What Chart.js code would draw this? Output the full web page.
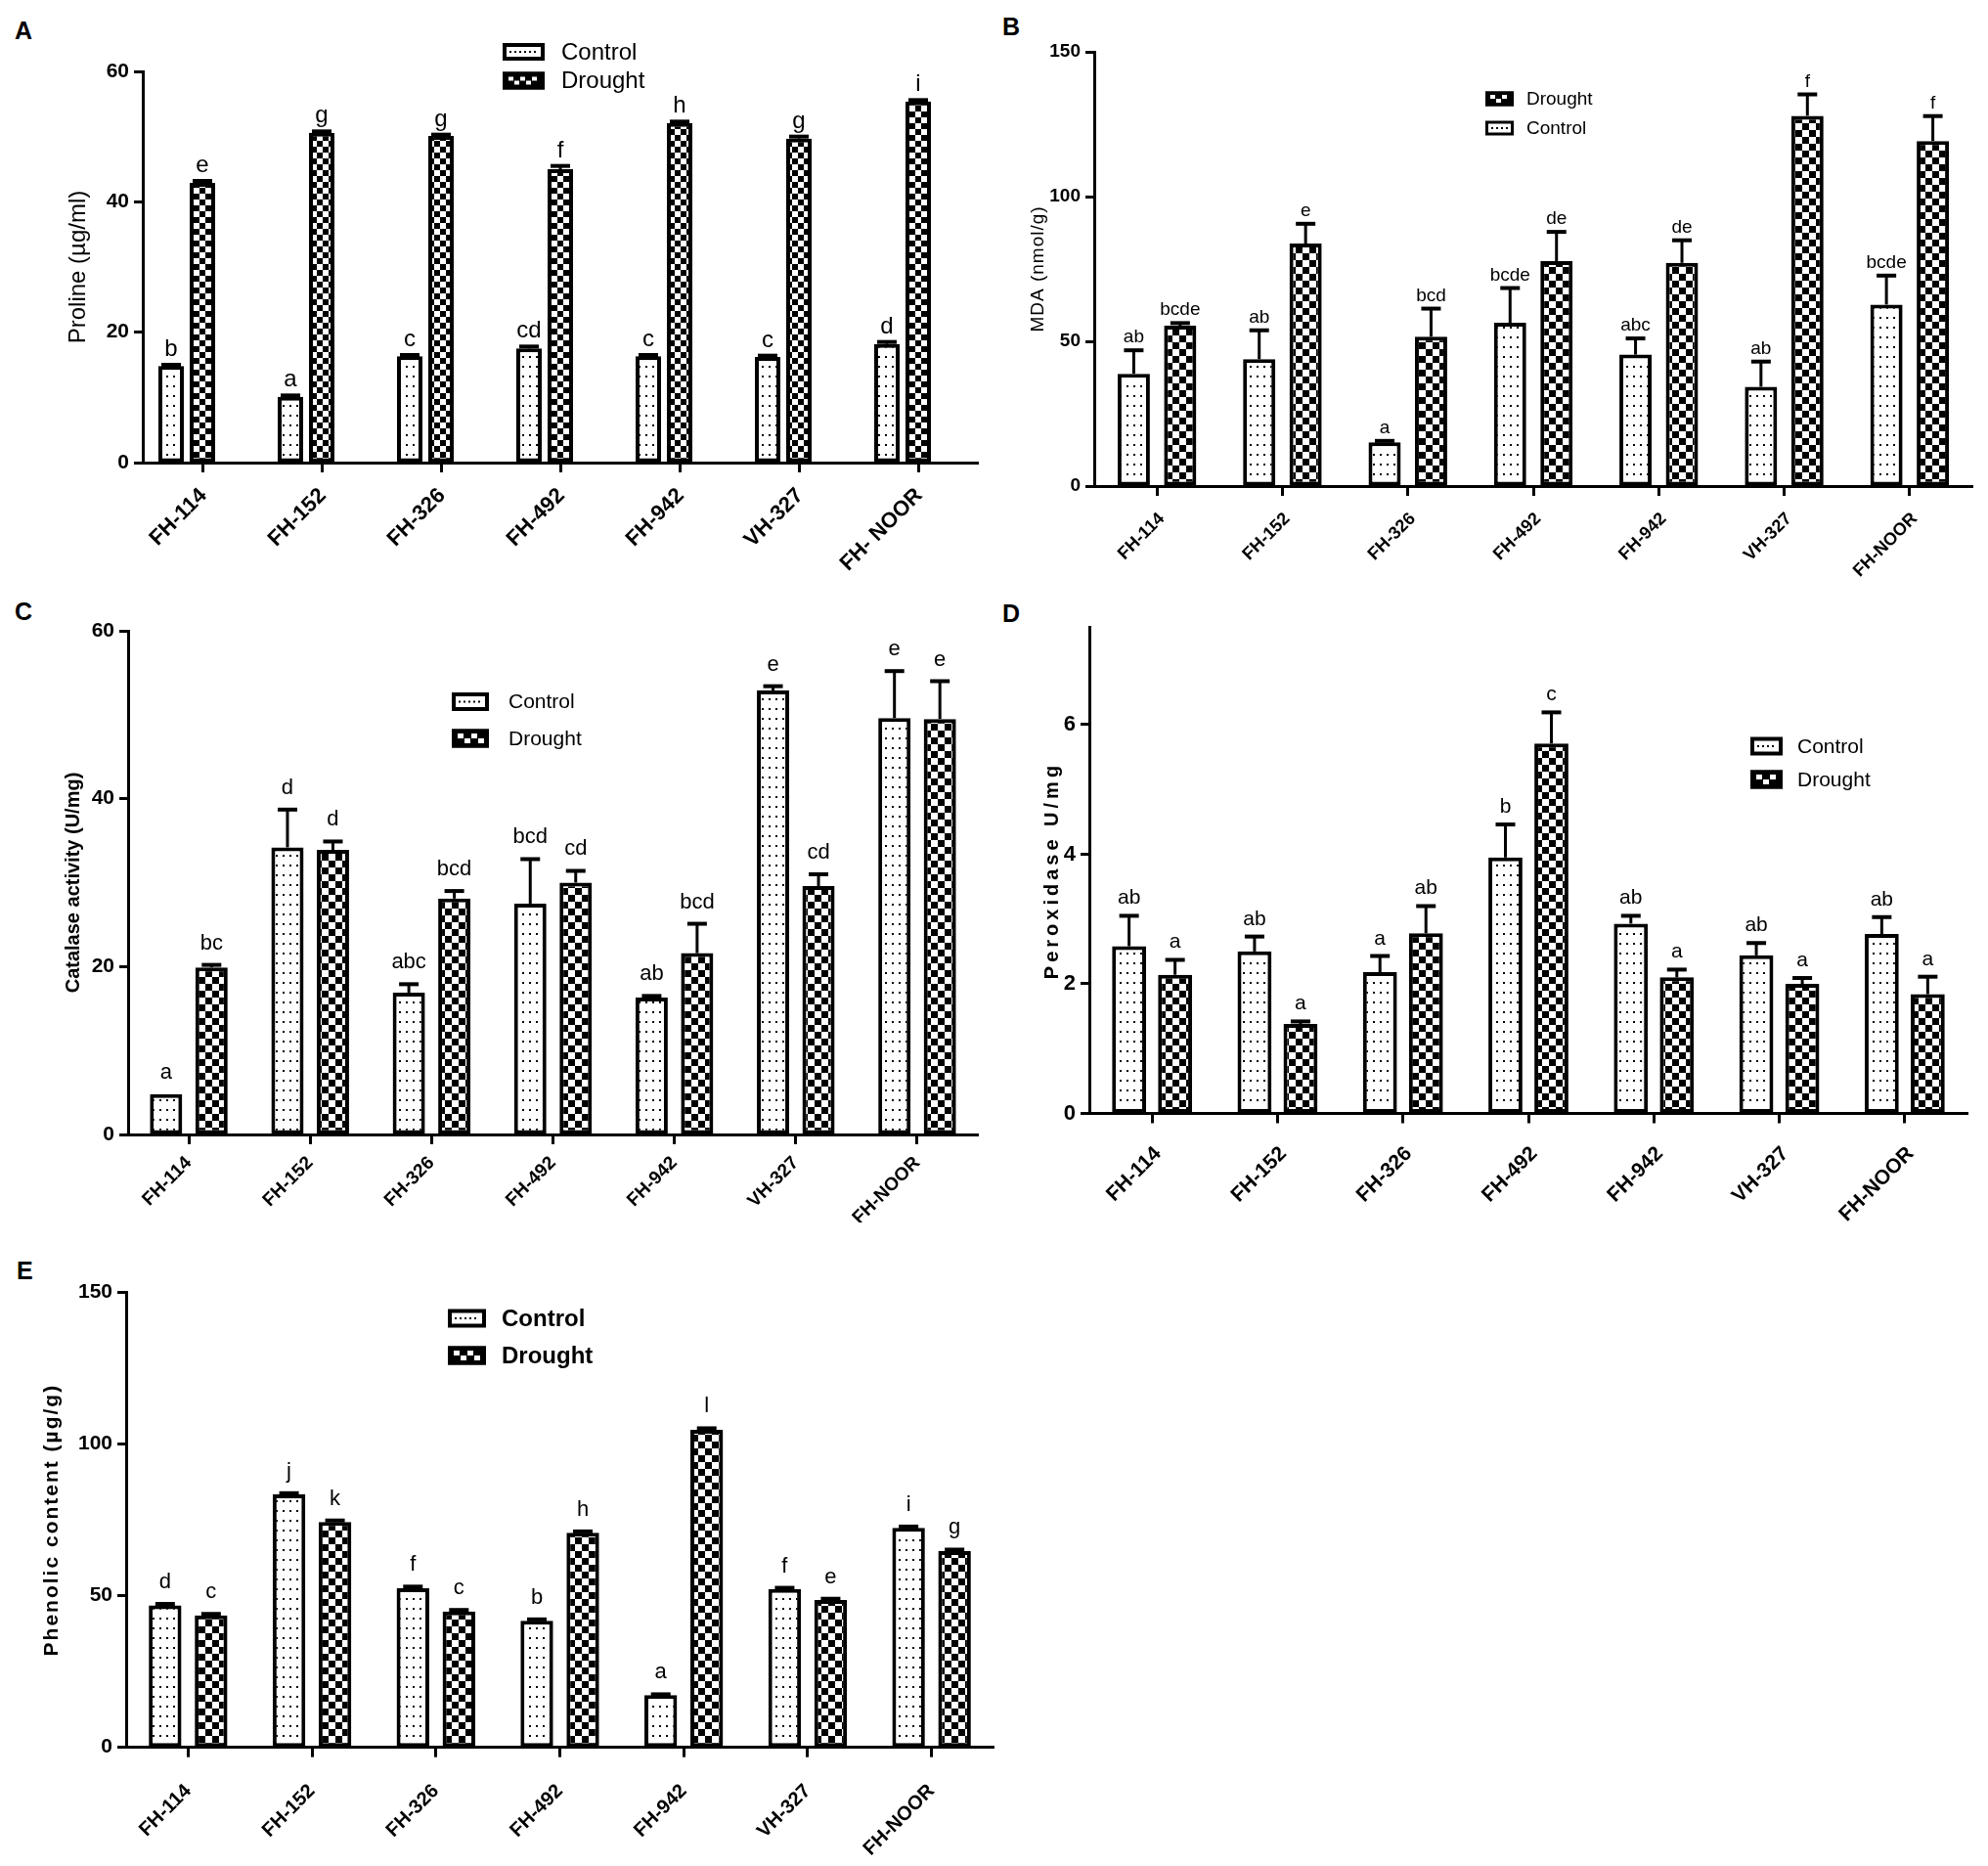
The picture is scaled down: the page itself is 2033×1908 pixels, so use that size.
<!DOCTYPE html>
<html><head><meta charset="utf-8">
<script src="https://cdn.jsdelivr.net/npm/chart.js@4.4.1/dist/chart.umd.min.js"></script>
<style>
html,body{margin:0;padding:0;background:#fff;}
body{width:2033px;height:1908px;position:relative;overflow:hidden;}
canvas{position:absolute;}
.pl{position:absolute;font-family:'Liberation Sans',Arial,sans-serif;font-weight:bold;font-size:25px;line-height:25px;color:#000;}
</style></head>
<body>
<div class="pl" style="left:15px;top:19px">A</div>
<div class="pl" style="left:1025px;top:15px">B</div>
<div class="pl" style="left:15px;top:613px">C</div>
<div class="pl" style="left:1025px;top:615px">D</div>
<div class="pl" style="left:17px;top:1287px">E</div>
<canvas id="cA" width="1017" height="600" style="left:0;top:0;width:1017px;height:600px"></canvas>
<canvas id="cB" width="1016" height="600" style="left:1017px;top:0;width:1016px;height:600px"></canvas>
<canvas id="cC" width="1017" height="650" style="left:0;top:600px;width:1017px;height:650px"></canvas>
<canvas id="cD" width="1016" height="660" style="left:1017px;top:600px;width:1016px;height:660px"></canvas>
<canvas id="cE" width="1033" height="658" style="left:0;top:1250px;width:1033px;height:658px"></canvas>
<script>
// ================= DATA =================
const seriesNames = ['Control', 'Drought'];
const categoriesA = ['FH-114', 'FH-152', 'FH-326', 'FH-492', 'FH-942', 'VH-327', 'FH- NOOR'];
const categories = ['FH-114', 'FH-152', 'FH-326', 'FH-492', 'FH-942', 'VH-327', 'FH-NOOR'];

// A: Proline
const prolineControl = [14.8, 10.1, 16.3, 17.5, 16.3, 16.2, 18.2];
const prolineControlErr = [0.2, 0.2, 0.2, 0.3, 0.2, 0.2, 0.3];
const prolineDrought = [42.9, 50.6, 50.1, 45.0, 52.1, 49.7, 55.4];
const prolineDroughtErr = [0.3, 0.2, 0.2, 0.5, 0.2, 0.3, 0.2];
const prolineControlLetters = ['b', 'a', 'c', 'cd', 'c', 'c', 'd'];
const prolineDroughtLetters = ['e', 'g', 'g', 'f', 'h', 'g', 'i'];
const prolineTicks = [0, 20, 40, 60];

// B: MDA
const mdaControl = [38.8, 43.8, 15.1, 56.4, 45.4, 34.3, 62.7];
const mdaControlErr = [8.1, 10.0, 0.5, 12.0, 5.6, 8.7, 10.0];
const mdaDrought = [55.4, 83.8, 51.6, 77.7, 77.1, 127.9, 119.2];
const mdaDroughtErr = [0.9, 6.8, 9.7, 10.1, 7.8, 7.4, 8.6];
const mdaControlLetters = ['ab', 'ab', 'a', 'bcde', 'abc', 'ab', 'bcde'];
const mdaDroughtLetters = ['bcde', 'e', 'bcd', 'de', 'de', 'f', 'f'];
const mdaTicks = [0, 50, 100, 150];

// C: Catalase
const catControl = [4.8, 34.2, 16.9, 27.5, 16.3, 52.9, 49.6];
const catControlErr = [0, 4.5, 1.0, 5.3, 0.2, 0.5, 5.6];
const catDrought = [19.9, 33.9, 28.1, 30.0, 21.6, 29.6, 49.5];
const catDroughtErr = [0.3, 1.0, 0.9, 1.4, 3.5, 1.4, 4.5];
const catControlLetters = ['a', 'd', 'abc', 'bcd', 'ab', 'e', 'e'];
const catDroughtLetters = ['bc', 'd', 'bcd', 'cd', 'bcd', 'cd', 'e'];
const catTicks = [0, 20, 40, 60];

// D: Peroxidase
const poxControl = [2.58, 2.50, 2.18, 3.95, 2.93, 2.44, 2.77];
const poxControlErr = [0.47, 0.23, 0.25, 0.51, 0.12, 0.19, 0.26];
const poxDrought = [2.14, 1.38, 2.78, 5.71, 2.10, 2.00, 1.84];
const poxDroughtErr = [0.23, 0.04, 0.42, 0.48, 0.12, 0.09, 0.27];
const poxControlLetters = ['ab', 'ab', 'a', 'b', 'ab', 'ab', 'ab'];
const poxDroughtLetters = ['a', 'a', 'ab', 'c', 'a', 'a', 'a'];
const poxTicks = [0, 2, 4, 6];

// E: Phenolic content
const phenControl = [46.8, 83.4, 52.5, 41.7, 17.2, 52.2, 72.4];
const phenControlErr = [0.5, 0.4, 0.5, 0.5, 0.3, 0.4, 0.4];
const phenDrought = [43.5, 74.3, 44.8, 70.8, 104.7, 48.6, 64.7];
const phenDroughtErr = [0.5, 0.5, 0.5, 0.4, 0.5, 0.4, 0.5];
const phenControlLetters = ['d', 'j', 'f', 'b', 'a', 'f', 'i'];
const phenDroughtLetters = ['c', 'k', 'c', 'h', 'l', 'e', 'g'];
const phenTicks = [0, 50, 100, 150];

// ================= STYLE / RENDER =================
const ARIAL = "'Liberation Sans', Arial, Helvetica, sans-serif";
Chart.defaults.color = '#000';
Chart.defaults.font.family = ARIAL;

function dotTile() {
  const c = document.createElement('canvas'); c.width = 7; c.height = 10;
  const g = c.getContext('2d');
  g.fillStyle = '#fff'; g.fillRect(0, 0, 7, 10);
  g.fillStyle = '#000'; g.fillRect(2, 4, 2, 2);
  return c;
}
function checkTile(s) {
  const c = document.createElement('canvas'); c.width = 2 * s; c.height = 2 * s;
  const g = c.getContext('2d');
  g.fillStyle = '#fff'; g.fillRect(0, 0, 2 * s, 2 * s);
  g.fillStyle = '#000'; g.fillRect(0, 0, s, s); g.fillRect(s, s, s, s);
  return c;
}

function drawLegendBox(ctx, kind, x, yc, w, h, lw) {
  const y = yc - h / 2;
  ctx.save();
  if (kind === 0) {
    ctx.fillStyle = '#fff'; ctx.fillRect(x, y, w, h);
    ctx.fillStyle = '#000';
    for (let xx = x + lw + 3; xx < x + w - lw - 3; xx += 5) ctx.fillRect(xx, yc - 1, 2, 2);
  } else {
    ctx.fillStyle = '#000'; ctx.fillRect(x, y, w, h);
    ctx.fillStyle = '#fff';
    const s = Math.max(3, Math.round((h - 2 * lw) / 2));
    let k = 0;
    for (let xx = x + lw + 2; xx + s <= x + w - lw - 1; xx += s + 1, k++) {
      ctx.fillRect(xx, (k % 2 ? yc : yc - s + 1), s, s - 1);
    }
  }
  ctx.lineWidth = lw; ctx.strokeStyle = '#000';
  ctx.strokeRect(x + lw / 2, y + lw / 2, w - lw, h - lw);
  ctx.restore();
}

function makeAnnot(p) {
  return {
    id: 'annot',
    beforeDraw(chart) {
      const s = chart.scales.y;
      if (!s._lsPatched) {
        const orig = s.drawTitle;
        s.drawTitle = function () {
          const c = this.ctx; c.save(); c.letterSpacing = p.titleLS || '0px';
          orig.call(this); c.restore();
        };
        s._lsPatched = true;
      }
    },
    afterDatasetsDraw(chart) {
      const ctx = chart.ctx, y = chart.scales.y;
      chart.data.datasets.forEach((ds, di) => {
        if (!ds.err) return;
        const meta = chart.getDatasetMeta(di);
        meta.data.forEach((bar, i) => {
          const v = ds.data[i], e = ds.err[i] || 0;
          const top = y.getPixelForValue(v + e);
          ctx.save();
          ctx.strokeStyle = '#000';
          if (e > 0) {
            ctx.lineWidth = 3;
            ctx.beginPath(); ctx.moveTo(bar.x, bar.y); ctx.lineTo(bar.x, top); ctx.stroke();
            ctx.lineWidth = 4;
            ctx.beginPath(); ctx.moveTo(bar.x - p.cap / 2, top); ctx.lineTo(bar.x + p.cap / 2, top); ctx.stroke();
          }
          ctx.fillStyle = '#000'; ctx.font = p.letterFont;
          ctx.textAlign = 'center'; ctx.textBaseline = 'alphabetic';
          ctx.fillText(ds.letters[i], bar.x, top - p.gap);
          ctx.restore();
        });
      });
      // legend
      const L = p.legend;
      L.order.forEach((si, r) => {
        drawLegendBox(ctx, si, L.x, L.ys[r], L.w, L.h, L.lw);
        ctx.save();
        ctx.fillStyle = '#000'; ctx.font = L.font; ctx.textAlign = 'left'; ctx.textBaseline = 'middle';
        ctx.fillText(seriesNames[si], L.tx, L.ys[r] + 1);
        ctx.restore();
      });
    }
  };
}

function buildChart(id, p) {
  const canvas = document.getElementById(id);
  const ctx = canvas.getContext('2d');
  const dot = ctx.createPattern(dotTile(), 'repeat');
  const chk = ctx.createPattern(checkTile(p.chk), 'repeat');
  const common = { borderColor: '#000', borderWidth: p.bw, borderSkipped: false,
    barPercentage: p.barPct, categoryPercentage: p.catPct };
  const datasets = [
    Object.assign({ label: seriesNames[0], data: p.control, err: p.controlErr, letters: p.controlLetters, backgroundColor: dot }, common),
    Object.assign({ label: seriesNames[1], data: p.drought, err: p.droughtErr, letters: p.droughtLetters, backgroundColor: chk }, common)
  ];
  if (p.spacer) {
    datasets.push({ label: '', data: p.control.map(() => null), backgroundColor: 'rgba(0,0,0,0)',
      borderWidth: 0, barPercentage: p.barPct, categoryPercentage: p.catPct });
  }
  return new Chart(ctx, {
    type: 'bar',
    data: { labels: p.labels, datasets },
    options: {
      responsive: false, animation: false, devicePixelRatio: 1, events: [],
      layout: { autoPadding: false, padding: p.pad },
      plugins: { legend: { display: false }, tooltip: { enabled: false } },
      scales: {
        x: {
          type: 'category', offset: true,
          grid: { display: true, drawOnChartArea: false, offset: false, drawTicks: true,
            tickLength: 10, tickWidth: 3, tickColor: '#000', color: '#000' },
          border: { display: true, color: '#000', width: 3 },
          ticks: { color: '#000', font: p.xFont, minRotation: 45, maxRotation: 45,
            padding: p.xPad, labelOffset: p.xOff, autoSkip: false },
          afterFit: (s) => { s.height = p.xH; }
        },
        y: {
          min: 0, max: p.max,
          afterBuildTicks: (s) => { s.ticks = p.ticks.map(v => ({ value: v })); },
          grid: { display: true, drawOnChartArea: false, drawTicks: true,
            tickLength: 9, tickWidth: 3, tickColor: '#000', color: '#000' },
          border: { display: true, color: '#000', width: 3 },
          ticks: { color: '#000', font: p.yFont, padding: 5 },
          title: { display: true, text: p.title, font: p.titleFont, color: '#000',
            padding: { top: p.titlePad, bottom: 0 } },
          afterFit: (s) => { s.width = p.yW; }
        }
      }
    },
    plugins: [makeAnnot(p)]
  });
}

buildChart('cA', {
  labels: categoriesA, control: prolineControl, controlErr: prolineControlErr, controlLetters: prolineControlLetters,
  drought: prolineDrought, droughtErr: prolineDroughtErr, droughtLetters: prolineDroughtLetters,
  ticks: prolineTicks, max: 60,
  pad: { left: 0, top: 73, right: 17, bottom: 0 }, yW: 146, xH: 127,
  catPct: 0.787, barPct: 0.8125, spacer: true, bw: 4, chk: 6,
  xFont: { family: ARIAL, size: 22, weight: 'bold' }, xPad: 11, xOff: 1,
  yFont: { family: ARIAL, size: 21, weight: 'bold' },
  title: 'Proline (µg/ml)', titleFont: { family: ARIAL, size: 24, weight: 'normal' }, titlePad: 66, titleLS: '0px',
  letterFont: '24px ' + ARIAL, gap: 9, cap: 20,
  legend: { order: [0, 1], x: 514, w: 43, h: 18, ys: [53, 82.5], tx: 574, font: '24px ' + ARIAL, lw: 4 }
});

buildChart('cB', {
  labels: categories, control: mdaControl, controlErr: mdaControlErr, controlLetters: mdaControlLetters,
  drought: mdaDrought, droughtErr: mdaDroughtErr, droughtLetters: mdaDroughtLetters,
  ticks: mdaTicks, max: 150,
  pad: { left: 0, top: 53, right: 16, bottom: 0 }, yW: 102, xH: 103,
  catPct: 0.74, barPct: 0.695, bw: 4, chk: 7,
  xFont: { family: ARIAL, size: 18, weight: 'bold' }, xPad: 13, xOff: 5,
  yFont: { family: ARIAL, size: 19, weight: 'bold' },
  title: 'MDA (nmol/g)', titleFont: { family: ARIAL, size: 19, weight: 'normal' }, titlePad: 33, titleLS: '1px',
  letterFont: '19px ' + ARIAL, gap: 8, cap: 20,
  legend: { order: [1, 0], x: 502, w: 29, h: 15, ys: [101, 131], tx: 544, font: '19px ' + ARIAL, lw: 3 }
});

buildChart('cC', {
  labels: categories, control: catControl, controlErr: catControlErr, controlLetters: catControlLetters,
  drought: catDrought, droughtErr: catDroughtErr, droughtLetters: catDroughtLetters,
  ticks: catTicks, max: 60,
  pad: { left: 0, top: 45, right: 17, bottom: 0 }, yW: 131, xH: 90,
  catPct: 0.749, barPct: 0.71, bw: 4, chk: 7,
  xFont: { family: ARIAL, size: 19, weight: 'bold' }, xPad: 8, xOff: 0,
  yFont: { family: ARIAL, size: 21, weight: 'bold' },
  title: 'Catalase activity (U/mg)', titleFont: { family: ARIAL, size: 20, weight: 'bold' }, titlePad: 63, titleLS: '0px',
  letterFont: '22px ' + ARIAL, gap: 16, cap: 20,
  legend: { order: [0, 1], x: 462, w: 38, h: 19, ys: [117.5, 155], tx: 520, font: '21px ' + ARIAL, lw: 4 }
});

buildChart('cD', {
  labels: categories, control: poxControl, controlErr: poxControlErr, controlLetters: poxControlLetters,
  drought: poxDrought, droughtErr: poxDroughtErr, droughtLetters: poxDroughtLetters,
  ticks: poxTicks, max: 7.5,
  pad: { left: 0, top: 41.6, right: 21, bottom: 0 }, yW: 97, xH: 121.5,
  catPct: 0.733, barPct: 0.74, bw: 4, chk: 7,
  xFont: { family: ARIAL, size: 21, weight: 'bold' }, xPad: 19, xOff: 6,
  yFont: { family: ARIAL, size: 22, weight: 'bold' },
  title: 'Peroxidase U/mg', titleFont: { family: ARIAL, size: 20, weight: 'bold' }, titlePad: 47, titleLS: '4px',
  letterFont: '21px ' + ARIAL, gap: 12, cap: 20,
  legend: { order: [0, 1], x: 773, w: 33, h: 19, ys: [163, 197], tx: 821, font: '21px ' + ARIAL, lw: 4 }
});

buildChart('cE', {
  labels: categories, control: phenControl, controlErr: phenControlErr, controlLetters: phenControlLetters,
  drought: phenDrought, droughtErr: phenDroughtErr, droughtLetters: phenDroughtLetters,
  ticks: phenTicks, max: 150,
  pad: { left: 0, top: 71.5, right: 17, bottom: 0 }, yW: 129, xH: 121.3,
  catPct: 0.742, barPct: 0.71, bw: 4, chk: 7,
  xFont: { family: ARIAL, size: 20, weight: 'bold' }, xPad: 23, xOff: 0,
  yFont: { family: ARIAL, size: 21, weight: 'bold' },
  title: 'Phenolic content (µg/g)', titleFont: { family: ARIAL, size: 21, weight: 'bold' }, titlePad: 41, titleLS: '2px',
  letterFont: '22px ' + ARIAL, gap: 16, cap: 20,
  legend: { order: [0, 1], x: 458, w: 39, h: 19, ys: [98, 136], tx: 513, font: 'bold 24px ' + ARIAL, lw: 4 }
});
</script>
</body></html>
